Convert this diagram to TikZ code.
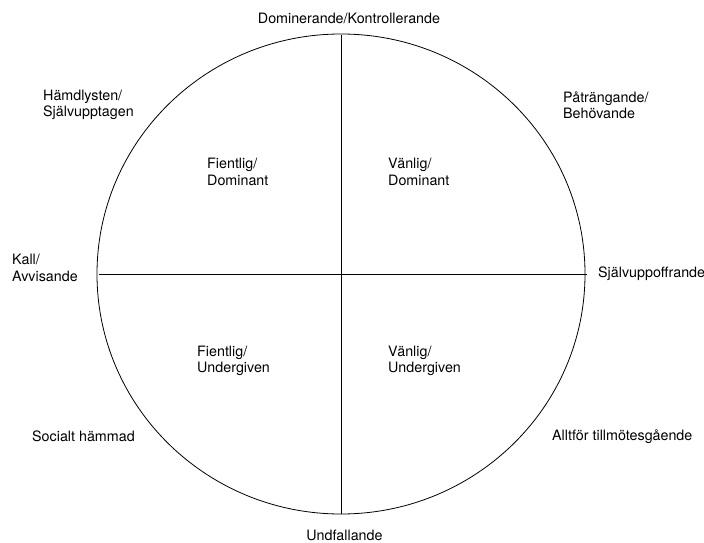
\documentclass[tikz,border=0pt]{standalone}
\usepackage{fontspec}
\setmainfont{TeX Gyre Heros}
\begin{document}
\begin{tikzpicture}[
  x=1pt, y=-1pt,
  font=\fontsize{14.3}{16.5}\selectfont,
  axis/.style={draw, line width=0.8pt},
  lbl/.style={align=left, anchor=west, inner sep=0pt},
  ctr/.style={align=center, anchor=center, inner sep=0pt}
]
\useasboundingbox (0,0) rectangle (704,543);
\def\cx{341}
\def\cy{274}

% circle and axes
\coordinate (C) at (\cx,\cy);
\coordinate (N) at (\cx,35);
\coordinate (S) at (\cx,514);
\coordinate (W) at (99,\cy);
\coordinate (E) at (587,\cy);
\draw[axis] (C) ellipse [x radius=244, y radius=240];
\draw[axis] (N) -- (S);
\draw[axis] (W) -- (E);

% outer labels
\node[ctr] (dom)  at (349,18)    {Dominerande/Kontrollerande};
\node[ctr] (und)  at (344.5,535) {Undfallande};
\node[lbl] (ham)  at (43,105)    {Hämdlysten/\\Självupptagen};
\node[lbl] (pat)  at (563,105)   {Påträngande/\\Behövande};
\node[lbl] (kall) at (12,268)    {Kall/\\Avvisande};
\node[lbl] (sjal) at (598,274)   {Självuppoffrande};
\node[lbl] (soc)  at (32,436)    {Socialt hämmad};
\node[lbl] (allt) at (552,437)   {Alltför tillmötesgående};

% quadrant labels
\node[lbl] (fd) at (207,172) {Fientlig/\\Dominant};
\node[lbl] (vd) at (388,172) {Vänlig/\\Dominant};
\node[lbl] (fu) at (197,361) {Fientlig/\\Undergiven};
\node[lbl] (vu) at (388,361) {Vänlig/\\Undergiven};
\end{tikzpicture}
\end{document}
